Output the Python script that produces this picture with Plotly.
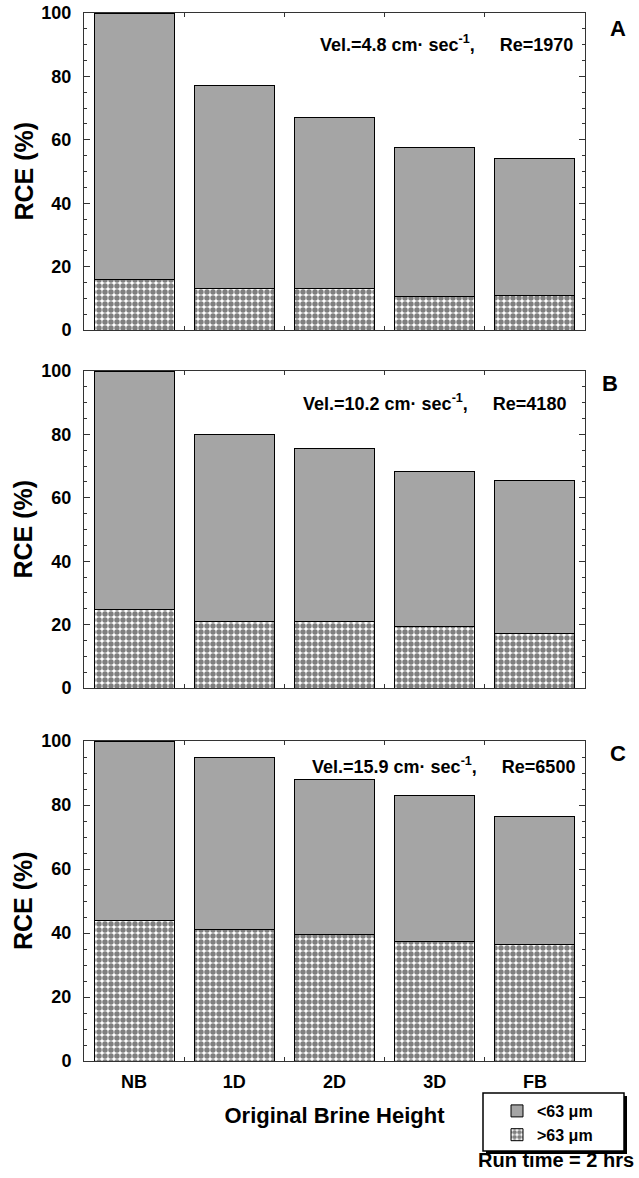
import plotly.graph_objects as go

categories = ["NB", "1D", "2D", "3D", "FB"]

# Panel A (Vel.=4.8, Re=1970)
a_total = [100, 77, 67, 57.5, 54]
a_coarse = [16, 13, 13, 10.7, 10.9]
# Panel B (Vel.=10.2, Re=4180)
b_total = [100, 80, 75.5, 68.3, 65.5]
b_coarse = [24.8, 21, 21, 19.3, 17.3]
# Panel C (Vel.=15.9, Re=6500)
c_total = [100, 95, 88, 83, 76.3]
c_coarse = [44, 41.2, 39.5, 37.5, 36.5]

panels = [
    ("A", a_total, a_coarse, "Vel.=4.8 cm· sec<sup>-1</sup>,     Re=1970", (4.4, 90.5)),
    ("B", b_total, b_coarse, "Vel.=10.2 cm· sec<sup>-1</sup>,     Re=4180", (4.33, 90)),
    ("C", c_total, c_coarse, "Vel.=15.9 cm· sec<sup>-1</sup>,     Re=6500", (4.42, 92.5)),
]

W, H = 639, 1178
x0, x1 = 84, 585
rows_px = [(13, 330), (371, 688), (741, 1061)]
letter_px = [(618, 28), (610, 383), (618, 753)]

FONT = "Liberation Sans, Arial, sans-serif"
GREY = "#a5a5a5"
AX = "#333"

fig = go.Figure()
for i, (letter, tot, coarse, label, (ax_, ay_)) in enumerate(panels):
    fine = [t - c for t, c in zip(tot, coarse)]
    xa = "x" if i == 0 else f"x{i+1}"
    ya = "y" if i == 0 else f"y{i+1}"
    fig.add_trace(go.Bar(
        x=categories, y=coarse, xaxis=xa, yaxis=ya,
        name=">63 μm", showlegend=(i == 2),
        marker=dict(color="white", line=dict(color="black", width=1),
                    pattern=dict(shape=".", fgcolor="black", bgcolor="white",
                                 size=6, solidity=0.65)),
    ))
    fig.add_trace(go.Bar(
        x=categories, y=fine, xaxis=xa, yaxis=ya,
        name="<63 μm", showlegend=(i == 2),
        marker=dict(color=GREY, line=dict(color="black", width=1)),
    ))
    top, bot = rows_px[i]
    dom_y = [1 - bot / H, 1 - top / H]
    xkey = "xaxis" if i == 0 else f"xaxis{i+1}"
    ykey = "yaxis" if i == 0 else f"yaxis{i+1}"
    xdict = dict(domain=[x0 / W, x1 / W], anchor=ya, type="category", automargin=False,
                 range=[-0.5, 4.5], showline=True, linecolor=AX, linewidth=1,
                 mirror="ticks", ticks="inside", ticklen=4, tickson="boundaries",
                 tickcolor=AX, showgrid=False, showticklabels=(i == 2),
                 ticklabelstandoff=4,
                 tickfont=dict(family=FONT, size=18, color="black", weight="bold"))
    if i == 2:
        xdict["title"] = dict(text="Original Brine Height",
                              font=dict(family=FONT, size=22, color="black", weight="bold"),
                              standoff=17)
    fig.update_layout(**{
        xkey: xdict,
        ykey: dict(domain=dom_y, anchor=xa, range=[0, 100], tickvals=[0, 20, 40, 60, 80, 100],
                   automargin=False,
                   showline=True, linecolor=AX, linewidth=1, mirror="ticks",
                   ticks="inside", ticklen=6, tickcolor=AX, showgrid=False, zeroline=False,
                   minor=dict(dtick=5, ticks="inside", ticklen=3, tickcolor=AX, showgrid=False),
                   ticklabelstandoff=8,
                   tickfont=dict(family=FONT, size=18, color="black", weight="bold")),
    })
    # y-axis title
    fig.add_annotation(xref="paper", yref=f"{ya} domain", x=23 / W, y=0.5,
                       xanchor="center", yanchor="middle", textangle=-90,
                       text="RCE (%)", showarrow=False,
                       font=dict(family=FONT, size=25, color="black", weight="bold"))
    fig.add_annotation(xref=xa, yref=ya, x=ax_, y=ay_, xanchor="right", yanchor="middle",
                       text=label, showarrow=False,
                       font=dict(family=FONT, size=18, color="black", weight="bold"))
    lx, ly = letter_px[i]
    fig.add_annotation(xref="paper", yref="paper", x=lx / W, y=1 - ly / H,
                       xanchor="center", yanchor="middle", text=letter, showarrow=False,
                       font=dict(family=FONT, size=22, color="black", weight="bold"))

fig.add_annotation(xref="paper", yref="paper", x=556 / W, y=1 - 1160 / H,
                   xanchor="center", yanchor="middle", text="Run time = 2 hrs", showarrow=False,
                   font=dict(family=FONT, size=20, color="black", weight="bold"))

# legend box with drop shadow
fig.add_shape(type="rect", xref="paper", yref="paper", layer="below",
              x0=486 / W, x1=627 / W, y0=1 - 1154 / H, y1=1 - 1096 / H,
              fillcolor="black", line=dict(width=0))
fig.add_shape(type="rect", xref="paper", yref="paper", layer="below",
              x0=483 / W, x1=624 / W, y0=1 - 1151 / H, y1=1 - 1093 / H,
              fillcolor="white", line=dict(color="black", width=1.5))

fig.update_layout(
    width=W, height=H, margin=dict(l=0, r=0, t=0, b=0),
    paper_bgcolor="white", plot_bgcolor="white",
    barmode="stack", bargap=0.2,
    legend=dict(x=497 / W, y=1 - 1094 / H, xanchor="left", yanchor="top",
                traceorder="reversed", borderwidth=0,
                bgcolor="rgba(0,0,0,0)",
                font=dict(family=FONT, size=16, color="black", weight="bold"),
                itemwidth=30),
)

fig.write_html("out.html")
